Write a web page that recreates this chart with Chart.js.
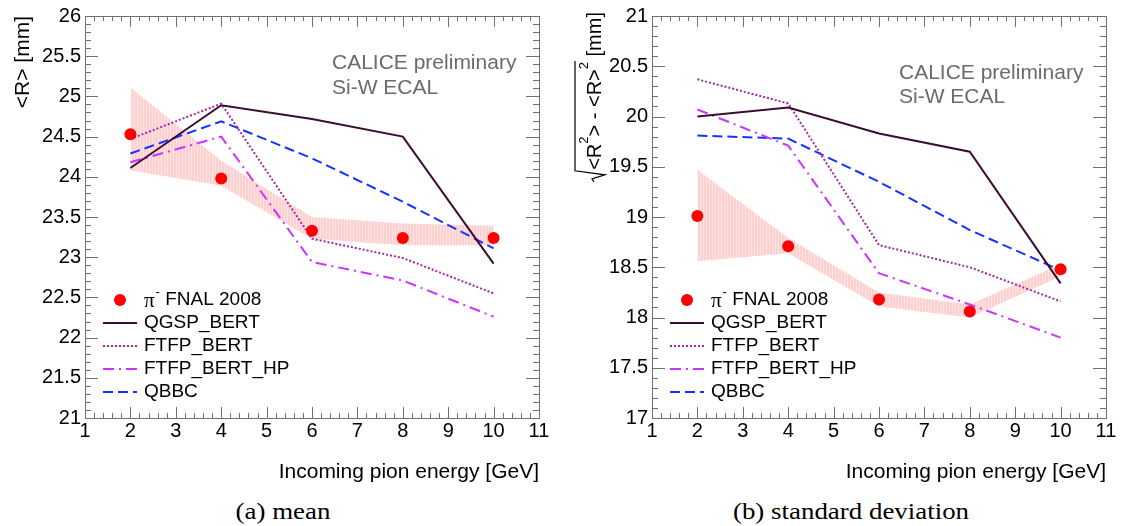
<!DOCTYPE html>
<html>
<head>
<meta charset="utf-8">
<script src="https://cdn.jsdelivr.net/npm/chart.js@4.4.1/dist/chart.umd.min.js"></script>
<style>
  body { margin: 0; background: #fff; }
  #wrap { position: relative; width: 1126px; height: 526px; overflow: hidden; }
  canvas { position: absolute; top: 0; }
  #meanChart { left: 0; }
  #sdChart { left: 563px; }
  .caption {
    position: absolute; top: 499px;
    font-family: 'Liberation Serif', 'Times New Roman', serif;
    font-size: 23px; color: #000; white-space: nowrap;
    transform: translateX(-50%) scaleX(1.17);
  }
</style>
</head>
<body>
<div id="wrap">
  <canvas id="meanChart" width="563" height="490"></canvas>
  <canvas id="sdChart" width="563" height="490"></canvas>
  <div class="caption" style="left:283px">(a) mean</div>
  <div class="caption" style="left:851px">(b) standard deviation</div>
</div>
<script>
const energies = [2, 4, 6, 8, 10];

// (a) mean <R>
const meanData = [24.53, 23.98, 23.33, 23.24, 23.24];
const meanBandLow = [24.08, 23.89, 23.23, 23.15, 23.15];
const meanBandHigh = [25.11, 24.2, 23.5, 23.42, 23.39];
const meanQGSP = [24.11, 24.89, 24.72, 24.5, 22.92];
const meanFTFP = [24.47, 24.91, 23.23, 22.99, 22.55];
const meanFTFPHP = [24.18, 24.5, 22.94, 22.71, 22.26];
const meanQBBC = [24.29, 24.69, 24.23, 23.69, 23.11];

// (b) standard deviation
const sdData = [19.01, 18.71, 18.18, 18.06, 18.48];
const sdBandLow = [18.56, 18.64, 18.11, 18.0, 18.41];
const sdBandHigh = [19.47, 18.79, 18.25, 18.13, 18.53];
const sdQGSP = [20.0, 20.09, 19.83, 19.65, 18.34];
const sdFTFP = [20.37, 20.13, 18.72, 18.5, 18.16];
const sdFTFPHP = [20.07, 19.71, 18.44, 18.13, 17.8];
const sdQBBC = [19.81, 19.78, 19.35, 18.87, 18.47];

const dataLabel = 'π⁻ FNAL 2008';
const modelNames = ['QGSP_BERT', 'FTFP_BERT', 'FTFP_BERT_HP', 'QBBC'];
const xRange = [1, 11];
const meanRange = [21, 26];
const sdRange = [17, 21];

const SANS = '"Liberation Sans", Arial, Helvetica, sans-serif';
const modelStyle = [
    { color: '#3b0c34', dash: [], width: 2 },
    { color: '#a626a8', dash: [2, 2], width: 2 },
    { color: '#cc33ff', dash: [11, 5, 2, 5], width: 2 },
    { color: '#1533ff', dash: [10, 5], width: 2 }
];

// vertical hatch for the data uncertainty band
function bandPattern() {
    const c = document.createElement('canvas');
    c.width = 3; c.height = 4;
    const g = c.getContext('2d');
    g.fillStyle = '#ffd0d0';
    g.fillRect(0, 0, 3, 4);
    g.fillStyle = '#ffe4e4';
    g.fillRect(2, 0, 1, 4);
    return g.createPattern(c, 'repeat');
}
const bandColor = bandPattern();

const pts = ys => energies.map((e, i) => ({ x: e, y: ys[i] }));

function buildDatasets(data, lo, hi, series) {
    const sets = [{
        label: dataLabel, data: pts(data), showLine: false,
        pointRadius: 6, pointHoverRadius: 6, pointBackgroundColor: '#ff0000',
        pointBorderWidth: 0, borderColor: '#ff0000', order: 0
    }];
    series.forEach((s, i) => {
        const st = modelStyle[i];
        sets.push({
            label: modelNames[i], data: pts(s), borderColor: st.color,
            borderDash: st.dash, borderWidth: st.width, pointRadius: 0,
            tension: 0, fill: false, order: 1
        });
    });
    sets.push({ data: pts(lo), borderColor: 'transparent', borderWidth: 1, pointRadius: 0, fill: false, order: 2 });
    sets.push({ data: pts(hi), borderColor: 'transparent', borderWidth: 1, pointRadius: 0, fill: '-1', backgroundColor: bandColor, order: 2 });
    return sets;
}

// ROOT-like frame with inward major / minor ticks on all four sides
const rootFrame = {
    id: 'rootFrame',
    afterDraw(chart) {
        const { ctx, chartArea: a, scales: { x, y } } = chart;
        ctx.save();
        ctx.strokeStyle = '#707070';
        ctx.lineWidth = 1;
        ctx.beginPath();
        const nx = Math.round((x.max - x.min) / 0.2);
        for (let i = 0; i <= nx; i++) {
            const px = Math.round(x.getPixelForValue(x.min + i * 0.2)) + 0.5;
            const len = i % 5 === 0 ? 11 : 5;
            ctx.moveTo(px, a.bottom); ctx.lineTo(px, a.bottom - len);
            ctx.moveTo(px, a.top); ctx.lineTo(px, a.top + len);
        }
        const ny = Math.round((y.max - y.min) / 0.1);
        for (let i = 0; i <= ny; i++) {
            const py = Math.round(y.getPixelForValue(y.min + i * 0.1)) + 0.5;
            const len = i % 5 === 0 ? 13 : 6;
            ctx.moveTo(a.left, py); ctx.lineTo(a.left + len, py);
            ctx.moveTo(a.right, py); ctx.lineTo(a.right - len, py);
        }
        ctx.stroke();
        ctx.strokeRect(Math.round(a.left) + 0.5, Math.round(a.top) + 0.5,
            Math.round(a.right - a.left), Math.round(a.bottom - a.top));
        ctx.restore();
    }
};

const rootLegend = {
    id: 'rootLegend',
    afterDraw(chart, args, o) {
        const { ctx, chartArea: a } = chart;
        const x0 = a.left + o.dx;
        ctx.save();
        ctx.textBaseline = 'middle';
        chart.data.datasets.filter(d => d.label).forEach((d, i) => {
            const cy = o.top + i * o.step;
            if (d.showLine === false) {
                ctx.fillStyle = d.pointBackgroundColor;
                ctx.beginPath();
                ctx.arc(x0 + 17, cy, 6, 0, Math.PI * 2);
                ctx.fill();
            } else {
                ctx.strokeStyle = d.borderColor;
                ctx.lineWidth = d.borderWidth;
                ctx.setLineDash(d.borderDash);
                ctx.beginPath();
                ctx.moveTo(x0, cy); ctx.lineTo(x0 + 34, cy);
                ctx.stroke();
                ctx.setLineDash([]);
            }
            ctx.fillStyle = '#000';
            let tx = x0 + 41;
            let text = d.label;
            if (text.startsWith('π⁻')) {
                ctx.font = '21px "Liberation Serif", "Times New Roman", serif';
                ctx.fillText('π', tx, cy + 1);
                tx += ctx.measureText('π').width;
                ctx.font = '13px ' + SANS;
                ctx.fillText('-', tx + 1, cy - 8);
                tx += ctx.measureText('-').width + 1;
                text = text.slice(2);
            }
            ctx.font = '19px ' + SANS;
            ctx.fillText(text, tx, cy);
        });
        ctx.restore();
    }
};

const watermark = {
    id: 'watermark',
    afterDraw(chart, args, o) {
        const { ctx, chartArea: a } = chart;
        ctx.save();
        ctx.fillStyle = '#6b6b6b';
        ctx.font = '21px ' + SANS;
        ctx.textBaseline = 'alphabetic';
        o.lines.forEach((t, i) => ctx.fillText(t, a.left + o.dx, o.baselines[i]));
        ctx.restore();
    }
};

// y title with a square root sign: sqrt(<R^2> - <R>^2) [mm]
const sqrtTitle = {
    id: 'sqrtTitle',
    afterDraw(chart, args, o) {
        if (!o.enabled) return;
        const ctx = chart.ctx;
        ctx.save();
        ctx.translate(o.x, o.top);
        ctx.rotate(-Math.PI / 2);
        const big = '20px ' + SANS, small = '13px ' + SANS;
        const parts = [['<R', big, 0], ['2', small, -13], ['> - <R>', big, 0], ['2', small, -13], [' [mm]', big, 0]];
        const widths = parts.map(p => { ctx.font = p[1]; return ctx.measureText(p[0]).width; });
        const total = widths.reduce((s, w) => s + w, 0);
        let x = -total;
        const start = x;
        let rootEnd = x;
        ctx.fillStyle = '#000';
        ctx.textBaseline = 'alphabetic';
        parts.forEach((p, i) => {
            ctx.font = p[1];
            ctx.fillText(p[0], x, p[2]);
            x += widths[i];
            if (i === 3) rootEnd = x + 1;
        });
        ctx.strokeStyle = '#000';
        ctx.lineWidth = 1.2;
        ctx.beginPath();
        ctx.moveTo(start - 12, -7);
        ctx.lineTo(start - 9, -9);
        ctx.lineTo(start - 5, 4);
        ctx.lineTo(start - 1, -26);
        ctx.lineTo(rootEnd, -26);
        ctx.stroke();
        ctx.restore();
    }
};

function makeChart(id, range, datasets, opt) {
    return new Chart(document.getElementById(id), {
        type: 'line',
        data: { datasets },
        plugins: [rootFrame, rootLegend, watermark, sqrtTitle],
        options: {
            responsive: false,
            animation: false,
            devicePixelRatio: 1,
            layout: { padding: { top: 13.5, right: opt.padRight, bottom: 0, left: 0 } },
            plugins: {
                legend: { display: false },
                tooltip: { enabled: false },
                rootLegend: { dx: 18, top: 300, step: 23 },
                watermark: { lines: ['CALICE preliminary', 'Si-W ECAL'], dx: 247, baselines: opt.wmBaselines },
                sqrtTitle: opt.sqrt
            },
            scales: {
                x: {
                    type: 'linear', min: xRange[0], max: xRange[1],
                    grid: { display: false, drawTicks: false },
                    border: { display: false },
                    ticks: { stepSize: 1, autoSkip: false, maxRotation: 0, color: '#000', padding: 1, font: { family: SANS, size: 20 } },
                    title: {
                        display: true, text: 'Incoming pion energy [GeV]', align: 'end', color: '#000',
                        font: { family: SANS, size: 21 }, padding: { top: 0, bottom: 5 }
                    },
                    afterFit: s => { s.height = 72; }
                },
                y: {
                    min: range[0], max: range[1],
                    grid: { display: false, drawTicks: false },
                    border: { display: false },
                    ticks: {
                        stepSize: 0.5, autoSkip: false, color: '#000', padding: 4,
                        font: { family: SANS, size: 20 },
                        callback: v => String(Math.round(v * 10) / 10)
                    },
                    title: {
                        display: opt.yTitle !== null, text: opt.yTitle || '', align: 'end', color: '#000',
                        font: { family: SANS, size: 21 }, padding: { top: 11, bottom: 0 }
                    },
                    afterFit: s => { s.width = opt.yWidth; }
                }
            }
        }
    });
}

makeChart('meanChart', meanRange,
    buildDatasets(meanData, meanBandLow, meanBandHigh, [meanQGSP, meanFTFP, meanFTFPHP, meanQBBC]),
    { padRight: 24, yWidth: 85, yTitle: '<R> [mm]', wmBaselines: [69, 94], sqrt: { enabled: false } });

makeChart('sdChart', sdRange,
    buildDatasets(sdData, sdBandLow, sdBandHigh, [sdQGSP, sdFTFP, sdFTFPHP, sdQBBC]),
    { padRight: 20, yWidth: 89, yTitle: null, wmBaselines: [79, 103], sqrt: { enabled: true, x: 601 - 563, top: 12 } });
</script>
</body>
</html>
